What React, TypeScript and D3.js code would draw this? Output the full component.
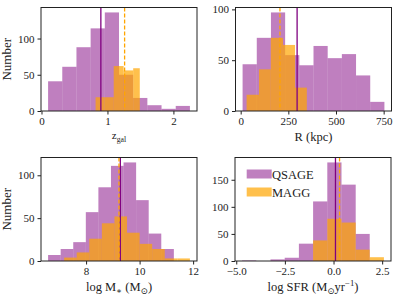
import React, { useEffect, useRef } from 'react';
import * as d3 from 'd3';

// z_gal panel
const zgalQsageEdges = [0.10, 0.315, 0.53, 0.745, 0.96, 1.175, 1.39, 1.605, 1.82, 2.035, 2.25];
const zgalQsageCounts = [41, 61, 88, 114, 136, 50, 18, 8, 3, 7];
const zgalMaggEdges = [0.82, 0.955, 1.095, 1.245, 1.39, 1.49];
const zgalMaggCounts = [19, 19, 62, 56, 59];
const zgalQsageMedian = 0.90;
const zgalMaggMedian = 1.26;
const zgalXTicks = [0, 1, 2];
const zgalYTicks = [0, 50, 100];

// R panel
const rQsageEdges = [10, 84.4, 158.8, 233.2, 307.6, 382, 456.4, 530.8, 605.2, 679.6, 754];
const rQsageCounts = [46, 72, 97, 55, 45, 64, 52, 56, 35, 9];
const rMaggEdges = [31, 96, 158, 222, 285, 347];
const rMaggCounts = [16, 41, 72, 65, 23];
const rQsageMedian = 296;
const rMaggMedian = 206;
const rXTicks = [0, 250, 500, 750];
const rYTicks = [0, 50, 100];

// log M* panel
const mQsageEdges = [6.58, 7.05, 7.52, 7.99, 8.46, 8.93, 9.40, 9.87, 10.34, 10.81, 11.28];
const mQsageCounts = [7, 14, 22, 57, 86, 111, 115, 71, 32, 14];
const mMaggEdges = [7.18, 7.65, 8.12, 8.59, 9.06, 9.53, 10.0, 10.47, 10.94, 11.41, 11.88];
const mMaggCounts = [4, 10, 26, 44, 52, 33, 20, 14, 3, 3];
const mQsageMedian = 9.28;
const mMaggMedian = 9.23;
const mXTicks = [8, 10, 12];
const mYTicks = [0, 50, 100];

// log SFR panel
const sfrQsageEdges = [-4.70, -3.97, -3.24, -2.51, -1.78, -1.05, -0.32, 0.41, 1.14, 1.86, 2.59];
const sfrQsageCounts = [1, 0, 3, 6, 32, 110, 182, 141, 50, 1];
const sfrMaggEdges = [-1.05, -0.32, 0.41, 1.14, 1.86, 2.59];
const sfrMaggCounts = [38, 78, 71, 21, 7];
const sfrQsageMedian = 0.10;
const sfrMaggMedian = 0.31;
const sfrXTicks = [-5, -2.5, 0, 2.5];
const sfrYTicks = [0, 50, 100, 150];

const legendLabels = ['QSAGE', 'MAGG'];

const PURPLE = '#800080';
const ORANGE = '#FFA500';
const FONT = "'Liberation Serif', 'Times New Roman', 'DejaVu Serif', serif";

type Part = { t: string; sub?: boolean; sup?: boolean };

export default function App() {
  const svgRef = useRef<SVGSVGElement>(null);

  useEffect(() => {
    if (!svgRef.current) return;
    const svg = d3.select(svgRef.current);
    svg.selectAll('*').remove();

    const W = 156;
    const H = 103.5;

    const panels = [
      {
        left: 41, top: 7.5,
        qE: zgalQsageEdges, qC: zgalQsageCounts, mE: zgalMaggEdges, mC: zgalMaggCounts,
        qMed: zgalQsageMedian, mMed: zgalMaggMedian,
        xTicks: zgalXTicks, yTicks: zgalYTicks, fmt: d3.format('d'),
        label: [{ t: 'z' }, { t: 'gal', sub: true }] as Part[], labelSize: 11,
        ylabel: true,
      },
      {
        left: 235.5, top: 7.5,
        qE: rQsageEdges, qC: rQsageCounts, mE: rMaggEdges, mC: rMaggCounts,
        qMed: rQsageMedian, mMed: rMaggMedian,
        xTicks: rXTicks, yTicks: rYTicks, fmt: d3.format('d'),
        label: [{ t: 'R (kpc)' }] as Part[], labelSize: 12.5,
        ylabel: false,
      },
      {
        left: 41, top: 157.5,
        qE: mQsageEdges, qC: mQsageCounts, mE: mMaggEdges, mC: mMaggCounts,
        qMed: mQsageMedian, mMed: mMaggMedian,
        xTicks: mXTicks, yTicks: mYTicks, fmt: d3.format('d'),
        label: [{ t: 'log M' }, { t: '∗', sub: true }, { t: ' (M' }, { t: '⊙', sub: true }, { t: ')' }] as Part[],
        labelSize: 12.5,
        ylabel: true,
      },
      {
        left: 235, top: 157.5,
        qE: sfrQsageEdges, qC: sfrQsageCounts, mE: sfrMaggEdges, mC: sfrMaggCounts,
        qMed: sfrQsageMedian, mMed: sfrMaggMedian,
        xTicks: sfrXTicks, yTicks: sfrYTicks, fmt: d3.format('.1f'),
        label: [{ t: 'log SFR (M' }, { t: '⊙', sub: true }, { t: 'yr' }, { t: '−1', sup: true }, { t: ')' }] as Part[],
        labelSize: 12.5,
        ylabel: false,
      },
    ];

    const writeParts = (sel: any, parts: Part[], size: number) => {
      let shift = 0;
      parts.forEach(p => {
        const target = p.sub ? size * 0.3 : p.sup ? -size * 0.38 : 0;
        sel.append('tspan')
          .attr('dy', target - shift)
          .style('font-size', `${p.sub || p.sup ? size * 0.7 : size}px`)
          .text(p.t);
        shift = target;
      });
    };

    panels.forEach((p, idx) => {
      const g = svg.append('g').attr('transform', `translate(${p.left},${p.top})`);

      const allEdges = [...p.qE, ...p.mE];
      const lo = d3.min(allEdges) as number;
      const hi = d3.max(allEdges) as number;
      const pad = (hi - lo) * 0.05;
      const x = d3.scaleLinear().domain([lo - pad, hi + pad]).range([0, W]);
      const ymax = (d3.max([...p.qC, ...p.mC]) as number) * 1.05;
      const y = d3.scaleLinear().domain([0, ymax]).range([H, 0]);

      const drawBars = (edges: number[], counts: number[], color: string, op: number) => {
        g.append('g').selectAll('rect')
          .data(counts)
          .enter()
          .append('rect')
          .attr('x', (d, i) => x(edges[i]))
          .attr('width', (d, i) => x(edges[i + 1]) - x(edges[i]))
          .attr('y', d => y(d))
          .attr('height', d => H - y(d))
          .attr('fill', color)
          .attr('fill-opacity', op);
      };
      drawBars(p.qE, p.qC, PURPLE, 0.5);
      drawBars(p.mE, p.mC, ORANGE, 0.7);

      // median lines
      g.append('line')
        .attr('x1', x(p.qMed)).attr('x2', x(p.qMed))
        .attr('y1', 0).attr('y2', H)
        .attr('stroke', PURPLE).attr('stroke-width', 1.3);
      g.append('line')
        .attr('x1', x(p.mMed)).attr('x2', x(p.mMed))
        .attr('y1', 0).attr('y2', H)
        .attr('stroke', ORANGE).attr('stroke-width', 1.3)
        .attr('stroke-dasharray', '4,2');

      // frame
      g.append('rect')
        .attr('width', W).attr('height', H)
        .attr('fill', 'none').attr('stroke', '#222').attr('stroke-width', 1);

      const xAxis = g.append('g')
        .attr('transform', `translate(0,${H})`)
        .call(d3.axisBottom(x).tickValues(p.xTicks).tickSize(3.5).tickPadding(3).tickFormat(p.fmt as any));
      const yAxis = g.append('g')
        .call(d3.axisLeft(y).tickValues(p.yTicks).tickSize(3.5).tickPadding(3).tickFormat(d3.format('d') as any));
      [xAxis, yAxis].forEach(a => {
        a.attr('font-family', null).attr('font-size', null);
        a.select('.domain').remove();
        a.selectAll('line').attr('stroke', '#222');
        a.selectAll('text').style('font-family', FONT).style('font-size', '11px').attr('fill', '#222');
      });

      // x label
      const xl = g.append('text')
        .attr('x', W / 2)
        .attr('y', idx === 0 ? 131 : 133)
        .attr('text-anchor', 'middle')
        .style('font-family', FONT)
        .attr('fill', '#222');
      writeParts(xl, p.label, p.labelSize);

      if (p.ylabel) {
        g.append('text')
          .attr('transform', `translate(${-30},${H / 2}) rotate(-90)`)
          .attr('text-anchor', 'middle')
          .style('font-family', FONT)
          .style('font-size', '13px')
          .attr('fill', '#222')
          .text('Number');
      }

      if (idx === 3) {
        const colors = [PURPLE, ORANGE];
        const ops = [0.5, 0.7];
        legendLabels.forEach((lab, i) => {
          const ly = 12 + i * 18;
          g.append('rect')
            .attr('x', 11.7).attr('y', ly)
            .attr('width', 25).attr('height', 9)
            .attr('fill', colors[i]).attr('fill-opacity', ops[i]);
          g.append('text')
            .attr('x', 37).attr('y', ly + 9)
            .style('font-family', FONT).style('font-size', '12.5px')
            .attr('fill', '#222')
            .text(lab);
        });
      }
    });
  }, []);

  return (
    <svg
      ref={svgRef}
      width={399}
      height={299}
      style={{ position: 'absolute', left: 0, top: 0, background: '#fff' }}
    />
  );
}
